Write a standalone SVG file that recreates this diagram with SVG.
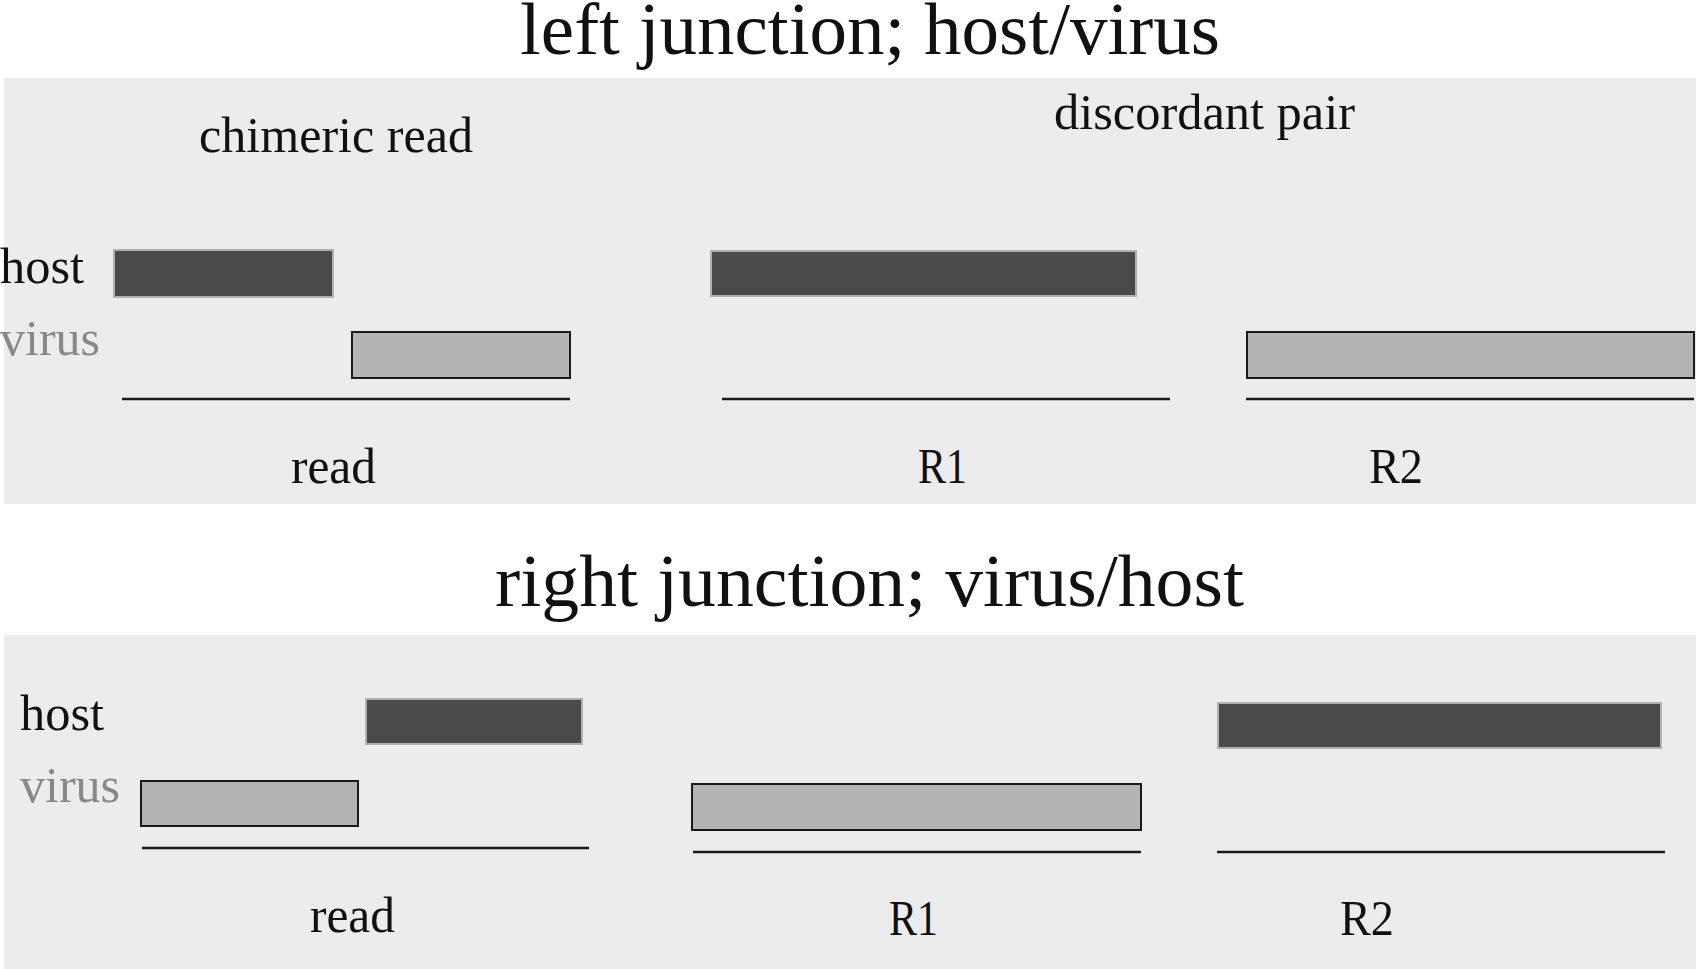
<svg xmlns="http://www.w3.org/2000/svg" width="1696" height="969" viewBox="0 0 1696 969">
<style>
.panel{fill:#ececec}
.t{font-family:"Liberation Serif","Times New Roman",serif;fill:#111}
.title{font-size:75px}
.lab{font-size:50px}
.vir{fill:#888}
.host{fill:#4a4a4a;stroke:#b0b0b0;stroke-width:2}
.virus{fill:#b4b4b4;stroke:#1a1a1a;stroke-width:2}
.ln{stroke:#1a1a1a;stroke-width:2.5}
</style>
<rect class="panel" x="4" y="78" width="1692" height="426"/>
<rect class="panel" x="4" y="635" width="1692" height="334"/>
<g id="titles">
<text class="t title" x="520" y="54" textLength="700" lengthAdjust="spacingAndGlyphs">left junction; host/virus</text>
<text class="t title" x="495" y="606" textLength="749" lengthAdjust="spacingAndGlyphs">right junction; virus/host</text>
</g>
<g id="top-labels">
<text class="t lab" x="199" y="152" textLength="274" lengthAdjust="spacingAndGlyphs">chimeric read</text>
<text class="t lab" x="1054" y="129" textLength="301" lengthAdjust="spacingAndGlyphs">discordant pair</text>
<text class="t lab" x="0" y="283" textLength="84" lengthAdjust="spacingAndGlyphs">host</text>
<text class="t lab vir" x="0" y="355" textLength="100" lengthAdjust="spacingAndGlyphs">virus</text>
<text class="t lab" x="291" y="483" textLength="85" lengthAdjust="spacingAndGlyphs">read</text>
<text class="t lab" x="918" y="483" textLength="49" lengthAdjust="spacingAndGlyphs">R1</text>
<text class="t lab" x="1369" y="483" textLength="54" lengthAdjust="spacingAndGlyphs">R2</text>
</g>
<g id="top-chimeric">
<rect class="host" x="114" y="250" width="219" height="47"/>
<rect class="virus" x="352" y="332" width="218" height="46"/>
</g>
<g id="top-R1">
<rect class="host" x="711" y="251" width="425" height="45"/>
</g>
<g id="top-R2">
<rect class="virus" x="1247" y="332" width="447" height="46"/>
</g>
<g id="bottom-labels">
<text class="t lab" x="20" y="730" textLength="84" lengthAdjust="spacingAndGlyphs">host</text>
<text class="t lab vir" x="20" y="802" textLength="100" lengthAdjust="spacingAndGlyphs">virus</text>
<text class="t lab" x="310" y="932" textLength="85" lengthAdjust="spacingAndGlyphs">read</text>
<text class="t lab" x="889" y="935" textLength="49" lengthAdjust="spacingAndGlyphs">R1</text>
<text class="t lab" x="1340" y="935" textLength="54" lengthAdjust="spacingAndGlyphs">R2</text>
</g>
<g id="bottom-chimeric">
<rect class="host" x="366" y="699" width="216" height="45"/>
<rect class="virus" x="141" y="781" width="217" height="45"/>
</g>
<g id="bottom-R1">
<rect class="virus" x="692" y="784" width="449" height="46"/>
</g>
<g id="bottom-R2">
<rect class="host" x="1218" y="703" width="443" height="45"/>
</g>
<g id="connectors">
<line class="ln" x1="122" y1="399" x2="570" y2="399"/>
<line class="ln" x1="722" y1="399" x2="1170" y2="399"/>
<line class="ln" x1="1246" y1="399" x2="1694" y2="399"/>
<line class="ln" x1="142" y1="848" x2="589" y2="848"/>
<line class="ln" x1="693" y1="852" x2="1141" y2="852"/>
<line class="ln" x1="1217" y1="852" x2="1665" y2="852"/>
</g>
</svg>
